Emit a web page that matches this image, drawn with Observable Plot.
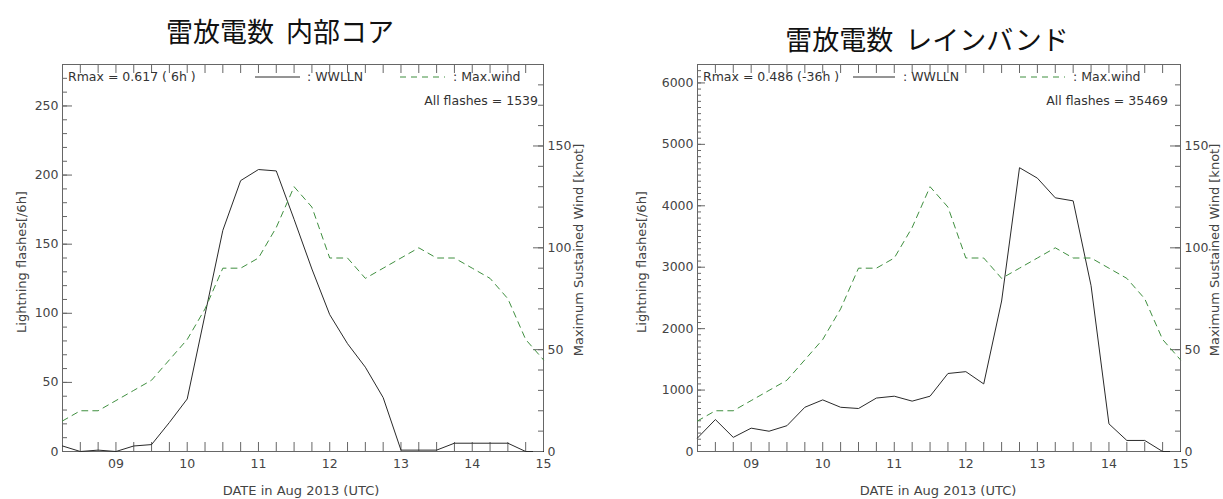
<!DOCTYPE html>
<html><head><meta charset="utf-8">
<script src="https://cdn.jsdelivr.net/npm/d3@7"></script>
<script src="https://cdn.jsdelivr.net/npm/@observablehq/plot@0.6"></script>
<style>
body{margin:0;background:#fff;}
#wrap{position:relative;width:1223px;height:499px;overflow:hidden;font-family:"DejaVu Sans",sans-serif;color:#444;}
.abs{position:absolute;white-space:pre;line-height:1;}
.panel{position:absolute;top:0;height:499px;}
.panel svg{position:absolute;left:0;top:0;}
.title{font-family:"Noto Sans CJK JP",sans-serif;font-size:27px;color:#111;transform:translate(-50%,-50%);word-spacing:6px;}
.leg{font-size:12.5px;transform:translateY(-50%);color:#333;}
.rot{font-size:13px;transform:translate(-50%,-50%) rotate(-90deg);}
.xl{font-size:13px;transform:translate(-50%,-50%);}
</style></head><body><div id="wrap"></div>
<script>
// ---- data (6-hourly, day of Aug 2013, UTC) ----
const times = [8.25, 8.5, 8.75, 9.0, 9.25, 9.5, 9.75, 10.0, 10.25, 10.5, 10.75, 11.0, 11.25, 11.5,
               11.75, 12.0, 12.25, 12.5, 12.75, 13.0, 13.25, 13.5, 13.75, 14.0, 14.25, 14.5, 14.75, 15.0];
const windKt = [15, 20, 20, 25, 30, 35, 45, 55, 70, 90, 90, 95, 110, 130,
                120, 95, 95, 85, 90, 95, 100, 95, 95, 90, 85, 75, 55, 45];
const coreFlashes = [4, 0, 1, 0, 4, 5, 21, 38, 99, 160, 196, 204, 203, 168,
                     132, 99, 78, 61, 39, 1, 1, 1, 6, 6, 6, 6, 0, 0];
const bandFlashes = [220, 520, 230, 380, 330, 420, 720, 840, 720, 700, 870, 900, 820, 900,
                     1270, 1300, 1100, 2450, 4620, 4450, 4130, 4080, 2700, 450, 180, 180, 0, 0];
const dayTicks = [9, 10, 11, 12, 13, 14, 15];
const dayLabels = ["09", "10", "11", "12", "13", "14", "15"];
const coreMajor = [0, 50, 100, 150, 200, 250];
const bandMajor = [0, 1000, 2000, 3000, 4000, 5000, 6000];
const windMajor = [0, 50, 100, 150];

const axisColor = "#666";
const green = "#3f8f3f";
const wrap = document.getElementById("wrap");

function panel({left, width, mL, mR, yMax, yMajor, yMinor, flashes, majorLen, minorLen}) {
  const H = 499, mT = 64, mB = 48;
  const innerW = width - mL - mR, innerH = H - mT - mB;
  const rows = times.map((t, i) => ({t, f: flashes[i], w: windKt[i]}));
  const common = {
    width, height: H, marginLeft: mL, marginRight: mR, marginTop: mT, marginBottom: mB,
    style: {fontFamily: "DejaVu Sans, sans-serif", fontSize: "12.5px", color: "#444", background: "transparent", overflow: "visible"}
  };
  const a = Plot.plot({
    ...common,
    x: {domain: [8.25, 15]},
    y: {domain: [0, yMax]},
    marks: [
      Plot.tickX(times, {x: d => d, insetTop: innerH - 9, stroke: axisColor}),
      Plot.tickX(times, {x: d => d, insetBottom: innerH - 9, stroke: axisColor}),
      Plot.tickY(yMinor, {y: d => d, insetRight: innerW - minorLen, stroke: axisColor}),
      Plot.tickY(yMajor, {y: d => d, insetRight: innerW - majorLen, stroke: axisColor}),
      Plot.axisX(dayTicks, {tickSize: 0, tickPadding: 8, tickFormat: d => dayLabels[dayTicks.indexOf(d)], label: null}),
      Plot.axisY(yMajor, {tickSize: 0, tickPadding: 4, tickFormat: d => String(d), label: null}),
      Plot.frame({stroke: axisColor}),
      Plot.line(rows, {x: "t", y: "f", stroke: "#2a2a2a", strokeWidth: 1})
    ]
  });
  const b = Plot.plot({
    ...common,
    x: {domain: [8.25, 15], axis: null},
    y: {domain: [0, 190]},
    marks: [
      Plot.tickY(d3.range(0, 191, 10), {y: d => d, insetLeft: innerW - 5, stroke: axisColor}),
      Plot.tickY(windMajor, {y: d => d, insetLeft: innerW - 10, stroke: axisColor}),
      Plot.axisY(windMajor, {anchor: "right", tickSize: 0, tickPadding: 4, tickFormat: d => String(d), label: null}),
      Plot.line(rows, {x: "t", y: "w", stroke: green, strokeDasharray: "6,5", strokeWidth: 1})
    ]
  });
  const div = document.createElement("div");
  div.className = "panel";
  div.style.left = left + "px";
  div.style.width = width + "px";
  div.appendChild(a);
  div.appendChild(b);
  wrap.appendChild(div);
}

panel({left: 0, width: 612, mL: 62, mR: 69, yMax: 280, yMajor: coreMajor,
       yMinor: d3.range(0, 281, 10), flashes: coreFlashes, majorLen: 10, minorLen: 5});
panel({left: 612, width: 611, mL: 85, mR: 43, yMax: 6300, yMajor: bandMajor,
       yMinor: d3.range(0, 6301, 100), flashes: bandFlashes, majorLen: 8, minorLen: 4});

function txt(cls, s, x, y, extra) {
  const d = document.createElement("div");
  d.className = "abs " + cls;
  d.textContent = s;
  d.style.left = x + "px";
  d.style.top = y + "px";
  if (extra) Object.assign(d.style, extra);
  wrap.appendChild(d);
  return d;
}
function legLine(x1, x2, y, dashed, color) {
  const ns = "http://www.w3.org/2000/svg";
  const s = document.createElementNS(ns, "svg");
  s.setAttribute("width", x2 - x1); s.setAttribute("height", 4);
  s.style.position = "absolute"; s.style.left = x1 + "px"; s.style.top = (y - 2) + "px";
  const l = document.createElementNS(ns, "line");
  l.setAttribute("x1", 0); l.setAttribute("x2", x2 - x1); l.setAttribute("y1", 2); l.setAttribute("y2", 2);
  l.setAttribute("stroke", color); l.setAttribute("stroke-width", 1);
  if (dashed) l.setAttribute("stroke-dasharray", "6,5");
  s.appendChild(l);
  wrap.appendChild(s);
}

// titles
txt("title", "雷放電数 内部コア", 280, 30);
txt("title", "雷放電数 レインバンド", 927, 38);

// left panel annotations
txt("leg", "Rmax = 0.617 ( 6h )", 68, 77);
legLine(255, 300, 77, false, "#2a2a2a");
txt("leg", ": WWLLN", 307, 77);
legLine(400, 445, 77, true, green);
txt("leg", ": Max.wind", 453, 77);
txt("leg", "All flashes = 1539", 538, 101, {transform: "translate(-100%,-50%)"});
txt("rot", "Lightning flashes[/6h]", 21, 262);
txt("rot", "Maximum Sustained Wind [knot]", 578, 250);
txt("xl", "DATE in Aug 2013 (UTC)", 301, 490);

// right panel annotations
txt("leg", "Rmax = 0.486 (-36h )", 703, 77);
legLine(853, 895, 77, false, "#2a2a2a");
txt("leg", ": WWLLN", 903, 77);
legLine(1020, 1065, 77, true, green);
txt("leg", ": Max.wind", 1073, 77);
txt("leg", "All flashes = 35469", 1168, 101, {transform: "translate(-100%,-50%)"});
txt("rot", "Lightning flashes[/6h]", 641, 262);
txt("rot", "Maximum Sustained Wind [knot]", 1214, 250);
txt("xl", "DATE in Aug 2013 (UTC)", 938, 490);
</script></body></html>
